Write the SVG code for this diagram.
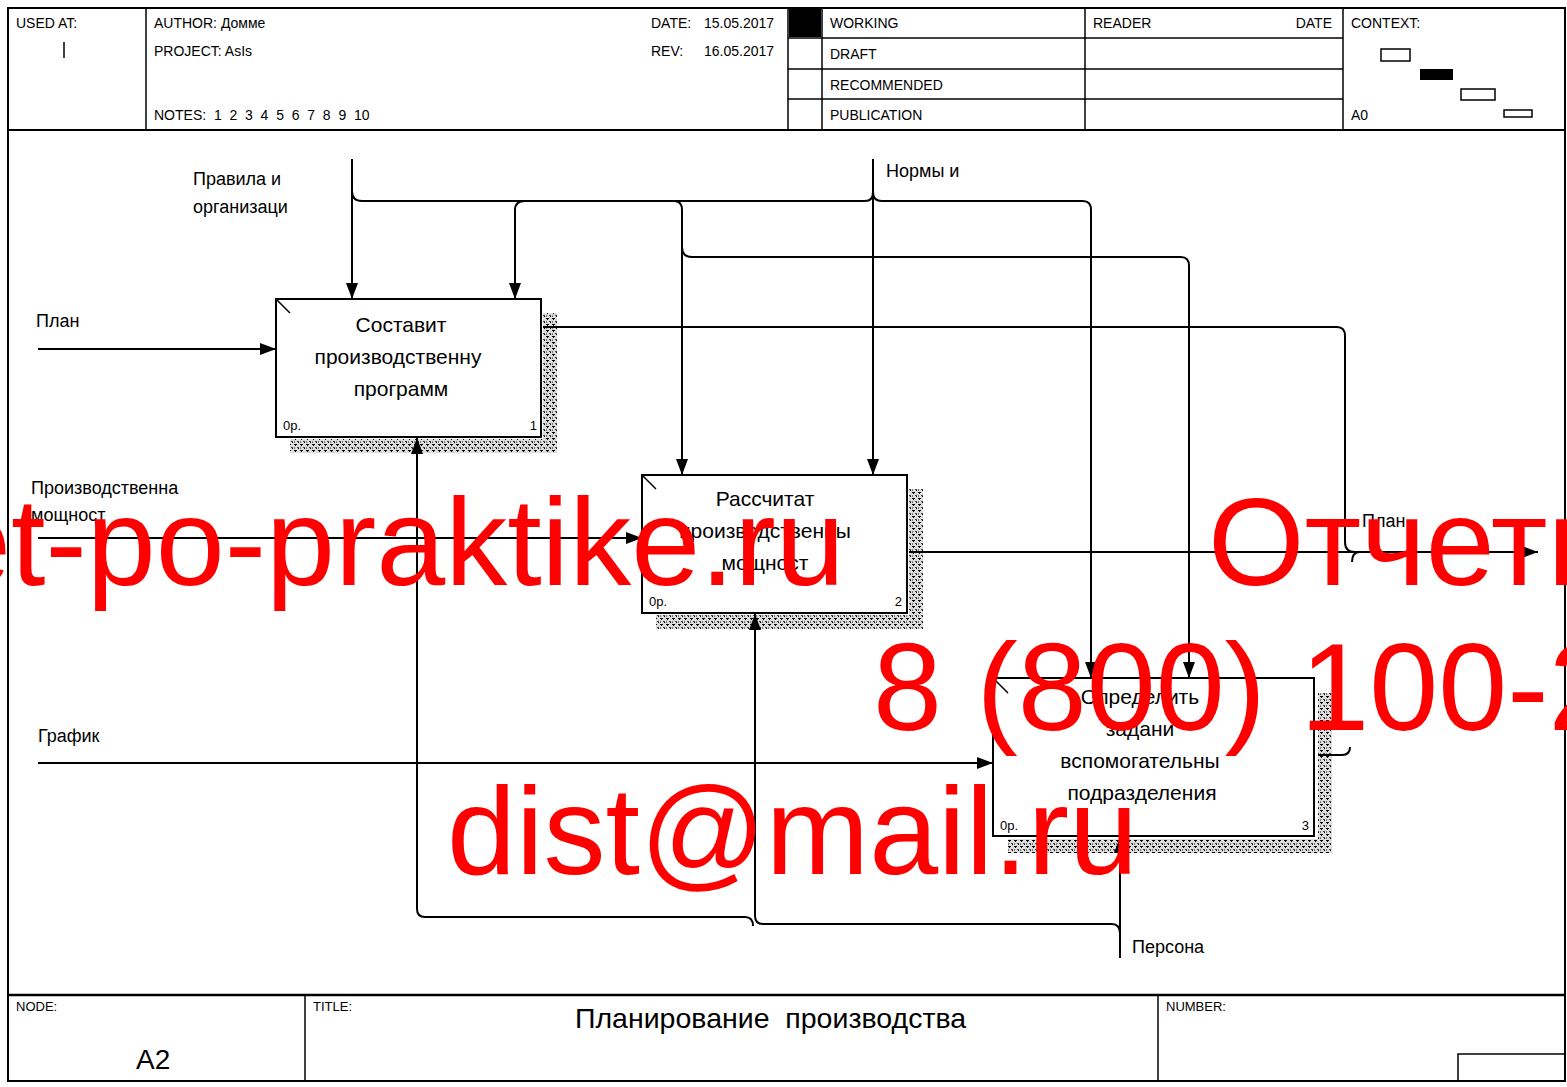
<svg xmlns="http://www.w3.org/2000/svg" width="1567" height="1087" viewBox="0 0 1567 1087">
<style>
.t{font-family:"Liberation Sans",Arial,sans-serif;fill:#000}
.h{font-size:14px}
.f{font-size:13px}
.lbl{font-size:18px}
.bx{font-size:21px;text-anchor:middle}
.sm{font-size:13px}
.ln{fill:none;stroke:#000;stroke-width:2}
.box{fill:#fff;stroke:#000;stroke-width:2}
.wm{font-family:"Liberation Sans",Arial,sans-serif;font-size:124px;fill:#ff0000}
</style>
<defs>
<marker id="ar" markerUnits="userSpaceOnUse" markerWidth="16" markerHeight="12" refX="16" refY="6" orient="auto">
<path d="M0,0 L16,6 L0,12 z" fill="#000"/>
</marker>
<pattern id="hatch" width="6" height="6" patternUnits="userSpaceOnUse">
<rect width="6" height="6" fill="#dcdcdc"/>
<rect x="0" y="0" width="3" height="1" fill="#000"/>
<rect x="1" y="1" width="1" height="1" fill="#000"/>
<rect x="3" y="3" width="2" height="1" fill="#444"/>
<rect x="0" y="3" width="1" height="2" fill="#777"/>
<rect x="4" y="4" width="1" height="1" fill="#000"/>
</pattern>
</defs>
<rect width="1567" height="1087" fill="#fff"/>

<g id="frame">
<rect x="8" y="8" width="1557" height="1073" fill="none" stroke="#000" stroke-width="2"/>
<line x1="8" y1="130" x2="1565" y2="130" stroke="#000" stroke-width="2"/>
<line x1="146" y1="8" x2="146" y2="130" stroke="#000" stroke-width="1.5"/>
<line x1="788" y1="8" x2="788" y2="130" stroke="#000" stroke-width="1.5"/>
<line x1="822" y1="8" x2="822" y2="130" stroke="#000" stroke-width="1.5"/>
<line x1="1085" y1="8" x2="1085" y2="130" stroke="#000" stroke-width="1.5"/>
<line x1="1343" y1="8" x2="1343" y2="130" stroke="#000" stroke-width="1.5"/>
<line x1="788" y1="38" x2="1343" y2="38" stroke="#000" stroke-width="1.5"/>
<line x1="788" y1="69" x2="1343" y2="69" stroke="#000" stroke-width="1.5"/>
<line x1="788" y1="99" x2="1343" y2="99" stroke="#000" stroke-width="1.5"/>
<rect x="789" y="9" width="32" height="28" fill="#000"/>
<line x1="64" y1="42" x2="64" y2="58" stroke="#000" stroke-width="1.5"/>
<rect x="1381" y="49" width="29" height="12" fill="#fff" stroke="#000" stroke-width="1.5"/>
<rect x="1420" y="69" width="33" height="11" fill="#000"/>
<rect x="1461" y="89" width="34" height="11" fill="#fff" stroke="#000" stroke-width="1.5"/>
<rect x="1504" y="110" width="28" height="7" fill="#fff" stroke="#000" stroke-width="1.5"/>
<text class="t h" x="16" y="28">USED AT:</text>
<text class="t h" x="154" y="28">AUTHOR:  Домме</text>
<text class="t h" x="154" y="56">PROJECT:  AsIs</text>
<text class="t h" x="154" y="120" style="white-space:pre">NOTES:  1  2  3  4  5  6  7  8  9  10</text>
<text class="t h" x="651" y="28">DATE:</text>
<text class="t h" x="704" y="28">15.05.2017</text>
<text class="t h" x="651" y="56">REV:</text>
<text class="t h" x="704" y="56">16.05.2017</text>
<text class="t h" x="830" y="28">WORKING</text>
<text class="t h" x="830" y="59">DRAFT</text>
<text class="t h" x="830" y="90">RECOMMENDED</text>
<text class="t h" x="830" y="120">PUBLICATION</text>
<text class="t h" x="1093" y="28">READER</text>
<text class="t h" x="1332" y="28" text-anchor="end">DATE</text>
<text class="t h" x="1351" y="28">CONTEXT:</text>
<text class="t h" x="1351" y="120">A0</text>
<line x1="8" y1="995" x2="1565" y2="995" stroke="#000" stroke-width="2.5"/>
<line x1="305" y1="995" x2="305" y2="1081" stroke="#000" stroke-width="1.5"/>
<line x1="1158" y1="995" x2="1158" y2="1081" stroke="#000" stroke-width="1.5"/>
<polyline points="1458,1081 1458,1054 1565,1054" fill="none" stroke="#000" stroke-width="1.5"/>
<text class="t f" x="16" y="1011">NODE:</text>
<text class="t f" x="313" y="1011">TITLE:</text>
<text class="t f" x="1166" y="1011">NUMBER:</text>
<text class="t" x="575" y="1028" font-size="28.5" style="white-space:pre">Планирование  производства</text>
<text class="t" x="136" y="1069" font-size="28">A2</text>
</g>

<g id="node1">
<rect x="543" y="313" width="14" height="140" fill="url(#hatch)"/>
<rect x="290" y="439" width="267" height="14" fill="url(#hatch)"/>
<rect class="box" x="276" y="299" width="265" height="138"/>
<line x1="276" y1="299" x2="290" y2="313" stroke="#000" stroke-width="1.5"/>
<text class="t bx" x="401" y="332">Составит</text>
<text class="t bx" x="398" y="364">производственну</text>
<text class="t bx" x="401" y="396">программ</text>
<text class="t sm" x="283" y="430">0р.</text>
<text class="t sm" x="537" y="430" text-anchor="end">1</text>
</g>

<g id="node2">
<rect x="909" y="489" width="14" height="140" fill="url(#hatch)"/>
<rect x="656" y="615" width="267" height="14" fill="url(#hatch)"/>
<rect class="box" x="642" y="475" width="265" height="138"/>
<line x1="642" y1="475" x2="656" y2="489" stroke="#000" stroke-width="1.5"/>
<text class="t bx" x="765" y="506">Рассчитат</text>
<text class="t bx" x="765" y="538">производственны</text>
<text class="t bx" x="765" y="570">мощност</text>
<text class="t sm" x="649" y="606">0р.</text>
<text class="t sm" x="902" y="606" text-anchor="end">2</text>
</g>

<g id="node3">
<rect x="1318" y="693" width="14" height="160" fill="url(#hatch)"/>
<rect x="1008" y="839" width="324" height="14" fill="url(#hatch)"/>
<rect class="box" x="993" y="678" width="321" height="158"/>
<line x1="993" y1="678" x2="1008" y2="693" stroke="#000" stroke-width="1.5"/>
<text class="t bx" x="1140" y="704">Определить</text>
<text class="t bx" x="1140" y="736">задани</text>
<text class="t bx" x="1140" y="768">вспомогательны</text>
<text class="t bx" x="1142" y="800">подразделения</text>
<text class="t sm" x="1000" y="830">0р.</text>
<text class="t sm" x="1309" y="830" text-anchor="end">3</text>
</g>

<g id="connectors">
<path class="ln" d="M38,349 H276" marker-end="url(#ar)"/>
<path class="ln" d="M38,538 H642" marker-end="url(#ar)"/>
<path class="ln" d="M38,763 H993" marker-end="url(#ar)"/>
<path class="ln" d="M352,159 V299" marker-end="url(#ar)"/>
<path class="ln" d="M352,191 Q352,201 362,201 H865 Q873,201 873,192"/>
<path class="ln" d="M525,201 Q515,201 515,210 V299" marker-end="url(#ar)"/>
<path class="ln" d="M674,201 Q682,201 682,210 V475" marker-end="url(#ar)"/>
<path class="ln" d="M873,159 V475" marker-end="url(#ar)"/>
<path class="ln" d="M873,192 Q873,201 882,201 H1083 Q1091,201 1091,210 V678" marker-end="url(#ar)"/>
<path class="ln" d="M682,247 Q682,257 692,257 H1181 Q1189,257 1189,266 V678" marker-end="url(#ar)"/>
<path class="ln" d="M543,327 H1337 Q1345,327 1345,336 V542 Q1345,552 1355,552"/>
<path class="ln" d="M909,552 H1538" marker-end="url(#ar)"/>
<path class="ln" d="M1352,562 Q1352,552 1360,552"/>
<path class="ln" d="M1318,755 H1342 Q1350,755 1350,747"/>
<path class="ln" d="M1120,958 V837" marker-end="url(#ar)"/>
<path class="ln" d="M1120,934 Q1120,924 1112,924 H763 Q755,924 755,916 V614" marker-end="url(#ar)"/>
<path class="ln" d="M753,926 Q753,917 745,917 H425 Q417,917 417,909 V438" marker-end="url(#ar)"/>
<text class="t lbl" x="193" y="185">Правила и</text>
<text class="t lbl" x="193" y="213">организаци</text>
<text class="t lbl" x="886" y="177">Нормы и</text>
<text class="t lbl" x="36" y="327">План</text>
<text class="t lbl" x="31" y="494">Производственна</text>
<text class="t lbl" x="31" y="521">мощност</text>
<text class="t lbl" x="38" y="742">График</text>
<text class="t lbl" x="1132" y="953">Персона</text>
<text class="t lbl" x="1362" y="527">План</text>
</g>

<g id="watermark">
<text class="wm" x="-58" y="585">et-po-praktike.ru</text>
<text class="wm" x="1208" y="585">Отчеты</text>
<text class="wm" x="873" y="730">8 (800) 100-2</text>
<text class="wm" x="447" y="874">dist@mail.ru</text>
</g>
</svg>
